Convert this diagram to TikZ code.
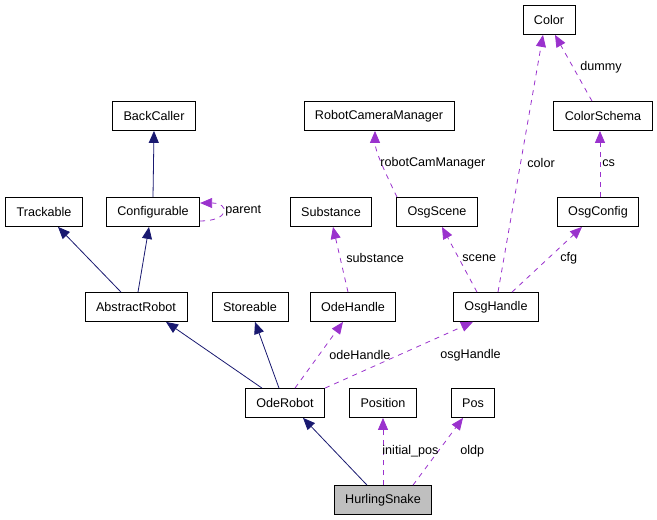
\documentclass[tikz,border=0pt]{standalone}
\usepackage{fontspec}
\setmainfont{Liberation Sans}
\usepackage{tikz}
\usetikzlibrary{arrows.meta}
\definecolor{inhblue}{HTML}{191970}
\definecolor{usepurple}{HTML}{9A32CD}

\begin{document}
\begin{tikzpicture}[x=1pt, y=-1pt, line width=0.8pt,
  inh/.style={-{Triangle[length=12pt,width=10pt]}, draw=inhblue},
  use/.style={-{Triangle[length=12pt,width=10pt]}, draw=usepurple, dash pattern=on 5pt off 5pt}]
\useasboundingbox (0,0) rectangle (657,520);
\tikzstyle{every node} = [draw=black, rectangle, minimum height=29pt, inner xsep=11pt, inner ysep=0pt, font=\fontsize{12.6}{15}\selectfont]
\node (color) at (549,20) {Color};
\node (backcaller) at (154,116) {BackCaller};
\node (robotcam) at (379,116) {RobotCameraManager};
\node (colorschema) at (603,116) {ColorSchema};
\node (trackable) at (44,212) {Trackable};
\node (configurable) at (153,212) {Configurable};
\node (substance) at (331,212) {Substance};
\node (osgscene) at (437,212) {OsgScene};
\node (osgconfig) at (598,212) {OsgConfig};
\node (abstractrobot) at (136,307) {AbstractRobot};
\node (storeable) at (250,307) {Storeable};
\node (odehandle) at (353,307) {OdeHandle};
\node (osghandle) at (496,307) {OsgHandle};
\node (oderobot) at (285,403) {OdeRobot};
\node (position) at (383,403) {Position};
\node (pos) at (473,403) {Pos};
\node[fill=black!25] (snake) at (383,500) {HurlingSnake};
% inheritance
\draw[inh] (configurable.north) -- (backcaller.south);
\draw[inh] ([xshift=-15pt]abstractrobot.north) -- ([xshift=14pt]trackable.south);
\draw[inh] ([xshift=2pt]abstractrobot.north) -- ([xshift=-4pt]configurable.south);
\draw[inh] ([xshift=-23pt]oderobot.north) -- ([xshift=30pt]abstractrobot.south);
\draw[inh] ([xshift=-6pt]oderobot.north) -- ([xshift=5pt]storeable.south);
\draw[inh] ([xshift=-16pt]snake.north) -- ([xshift=18pt]oderobot.south);
% usage
\draw[use] ([yshift=-9pt]configurable.east) .. controls +(30,0) and +(30,0) .. ([yshift=9pt]configurable.east);
\draw[use] ([xshift=10pt]oderobot.north) -- ([xshift=-10pt]odehandle.south);
\draw[use] ([xshift=40pt]oderobot.north) -- ([xshift=-23pt]osghandle.south);
\draw[use] (snake.north) -- (position.south);
\draw[use] ([xshift=30pt]snake.north) -- ([xshift=-10pt]pos.south);
\draw[use] ([xshift=-5pt]odehandle.north) -- ([xshift=2pt]substance.south);
\draw[use] ([xshift=-19pt]osghandle.north) -- ([xshift=5pt]osgscene.south);
\draw[use] ([xshift=2pt]osghandle.north) -- ([xshift=-6pt]color.south);
\draw[use] ([xshift=16pt]osghandle.north) -- ([xshift=-16pt]osgconfig.south);
\draw[use] ([xshift=-40pt]osgscene.north) .. controls +(-12,-25) and +(0,20) .. ([xshift=-4pt]robotcam.south);
\draw[use] ([xshift=2pt]osgconfig.north) -- ([xshift=-3pt]colorschema.south);
\draw[use] ([xshift=-11pt]colorschema.north) -- ([xshift=6pt]color.south);
\tikzstyle{every node} = [anchor=west, inner sep=0pt, font=\fontsize{12.6}{15}\selectfont]
\node (lparent) at (225,211) {parent};
\node (ldummy) at (580,67) {dummy};
\node (lcolor) at (527,163) {color};
\node (lrobotcam) at (380,163) {robotCamManager};
\node (lcs) at (602,163) {cs};
\node (lsubstance) at (346,258) {substance};
\node (lscene) at (462,258) {scene};
\node (lcfg) at (560,258) {cfg};
\node (lodehandle) at (329,355) {odeHandle};
\node (losghandle) at (440,355) {osgHandle};
\node (linitial) at (382,451) {initial\_pos};
\node (loldp) at (460,451) {oldp};
\end{tikzpicture}
\end{document}
